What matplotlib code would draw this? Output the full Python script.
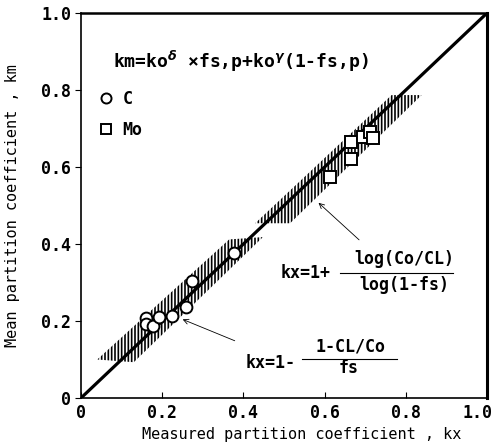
import matplotlib
matplotlib.use("Agg")
import matplotlib.pyplot as plt
import matplotlib.transforms as mtransforms
import numpy as np

# measured (kx) vs mean (km) partition coefficient
c_kx = [0.159, 0.160, 0.178, 0.193, 0.223, 0.259, 0.273, 0.378]
c_km = [0.207, 0.192, 0.187, 0.211, 0.214, 0.237, 0.305, 0.376]
mo_kx = [0.614, 0.664, 0.664, 0.695, 0.712, 0.718]
mo_km = [0.575, 0.620, 0.666, 0.677, 0.692, 0.675]

# scatter bands (outline of the hatched regions)
band1_x = [0.040, 0.365, 0.448, 0.130]
band1_y = [0.100, 0.412, 0.418, 0.093]
band2_x = [0.429, 0.765, 0.839, 0.515]
band2_y = [0.454, 0.787, 0.787, 0.454]

ticks = [0, 0.2, 0.4, 0.6, 0.8, 1.0]
tick_labels = ["0", "0.2", "0.4", "0.6", "0.8", "1.0"]

plt.rcParams["font.family"] = ["DejaVu Sans Mono"]
plt.rcParams["font.weight"] = "bold"
plt.rcParams["hatch.linewidth"] = 1.2

fig = plt.figure(figsize=(5.0, 4.45), dpi=100)
ax = fig.add_axes([0.162, 0.1056, 0.812, 0.865])

ax.fill(band1_x, band1_y, facecolor="none", edgecolor="black", linewidth=0, hatch="|||||")
ax.fill(band2_x, band2_y, facecolor="none", edgecolor="black", linewidth=0, hatch="|||||")

ax.plot([0, 1], [0, 1], color="black", lw=2.3, zorder=3)

ax.plot(c_kx, c_km, "o", ms=8.5, mfc="white", mec="black", mew=1.4, zorder=4, label="C")
ax.plot(mo_kx, mo_km, "s", ms=8, mfc="white", mec="black", mew=1.4, zorder=4, label="Mo")

ax.set_xlim(0, 1)
ax.set_ylim(0, 1)
ax.set_xticks(ticks)
ax.set_yticks(ticks)
ax.set_xticklabels(tick_labels, fontsize=12)
ax.set_yticklabels(tick_labels, fontsize=12)
ax.tick_params(axis="x", direction="in", length=4, width=0.8, pad=4)
ax.tick_params(axis="y", direction="out", length=4, width=0.8, pad=3)
# pull the "1.0" label in a bit so it stays inside the figure
last = ax.get_xticklabels()[-1]
last.set_transform(last.get_transform() + mtransforms.ScaledTranslation(-0.10, 0, fig.dpi_scale_trans))
ax.spines["left"].set_linewidth(1.2)
ax.spines["bottom"].set_linewidth(1.2)
ax.spines["top"].set_linewidth(1.8)
ax.spines["right"].set_linewidth(2.2)

ax.set_xlabel("Measured partition coefficient , kx", fontsize=11, va="center")
ax.xaxis.set_label_coords(0.544, -0.095)
ax.set_ylabel("Mean partition coefficient , km", fontsize=11, va="center")
ax.yaxis.set_label_coords(-0.168, 0.5)

ax.text(0.08, 0.875, r"km=ko$^{\delta}$ ×fs,p+ko$^{\gamma}$(1-fs,p)", fontsize=13,
        transform=ax.transAxes, va="center")

leg = ax.legend(loc="upper left", bbox_to_anchor=(0.0, 0.83), frameon=False,
                fontsize=12, handletextpad=0.2, labelspacing=0.75, borderpad=0.2,
                markerscale=0.85, handlelength=1.6)

# formula for kx (log)
ax.annotate("", xy=(0.58, 0.512), xytext=(0.69, 0.406),
            arrowprops=dict(arrowstyle="->", color="black", lw=0.6, mutation_scale=9))
ax.text(0.554, 0.325, "kx=1+", fontsize=12, ha="center", va="center")
ax.text(0.797, 0.361, "log(Co/CL)", fontsize=12, ha="center", va="center")
ax.text(0.797, 0.294, "log(1-fs)", fontsize=12, ha="center", va="center")
ax.plot([0.638, 0.916], [0.325, 0.325], color="black", lw=0.8)

# formula for kx (linear)
ax.annotate("", xy=(0.244, 0.207), xytext=(0.385, 0.146),
            arrowprops=dict(arrowstyle="->", color="black", lw=0.6, mutation_scale=9))
ax.text(0.466, 0.092, "kx=1-", fontsize=12, ha="center", va="center")
ax.text(0.665, 0.133, "1-CL/Co", fontsize=12, ha="center", va="center")
ax.text(0.658, 0.078, "fs", fontsize=12, ha="center", va="center")
ax.plot([0.544, 0.778], [0.102, 0.102], color="black", lw=0.8)

plt.savefig("out.png", dpi=100)
